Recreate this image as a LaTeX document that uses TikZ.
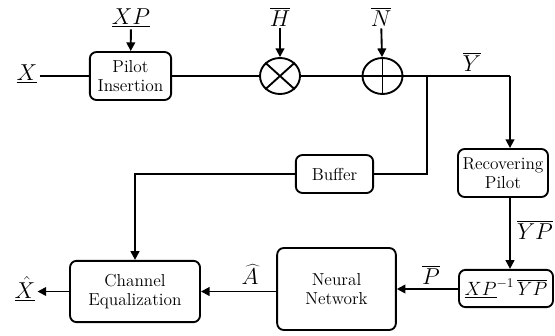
\documentclass[tikz,border=0pt]{standalone}
\usetikzlibrary{arrows.meta,shapes.geometric}
\begin{document}
\begin{tikzpicture}[x=0.75pt,y=-0.75pt,
  line width=1.4pt,
  blk/.style={draw,rounded corners=5pt,align=center,font=\fontsize{13}{14.5}\selectfont,inner sep=1pt},
  lbl/.style={font=\fontsize{18}{20}\selectfont,inner sep=1pt},
  opr/.style={draw,ellipse,minimum width=30pt,minimum height=27pt,inner sep=0pt},
  arr/.style={-{Triangle[length=6.5pt,width=6.5pt]}}]
\useasboundingbox (0,0) rectangle (555,335);

% blocks
\node[blk,minimum width=61pt,minimum height=36pt] (pilot) at (130.5,76) {Pilot\\Insertion};
\node[opr] (mul) at (280,76) {};
\node[opr] (add) at (382.5,76) {};
\node[blk,minimum width=58pt,minimum height=28.5pt] (buf) at (334.5,174) {Buffer};
\node[blk,minimum width=67.5pt,minimum height=36pt] (rec) at (503,173) {Recovering\\Pilot};
\node[blk,minimum width=70.5pt,minimum height=28pt,font=\fontsize{14}{16}\selectfont] (ls) at (506,288.5) {$\underline{XP}^{-1}\,\overline{YP}$};
\node[blk,minimum width=89pt,minimum height=61.5pt] (nn) at (336.5,289) {Neural\\Network};
\node[blk,minimum width=97.5pt,minimum height=46pt] (eq) at (135,291.5) {Channel\\Equalization};

% operator symbols
\draw (mul.north east) -- (mul.south west) (mul.north west) -- (mul.south east);
\draw (add.north) -- (add.south) (add.west) -- (add.east);

% labels
\node[lbl] (x) at (27,74) {$\underline{X}$};
\node[lbl] (xp) at (131,18) {$\underline{XP}$};
\node[lbl] (h) at (280,17) {$\overline{H}$};
\node[lbl] (n) at (381,17) {$\overline{N}$};
\node[lbl] (y) at (472,62) {$\overline{Y}$};
\node[lbl] (yp) at (535,230) {$\overline{YP}$};
\node[lbl] (p) at (431,275) {$\overline{P}$};
\node[lbl] (a) at (250,274) {$\widehat{A}$};
\node[lbl] (xh) at (25,289) {$\underline{\hat{X}}$};

% junctions
\coordinate (br) at (427,76);
\coordinate (tr) at (510,76);

% connectors
\draw (x.east |- pilot.west) -- (pilot.west);
\draw[arr] (xp) -- (pilot);
\draw (pilot.east) -- (mul.west);
\draw[arr] (h) -- (mul);
\draw (mul.east) -- (add.west);
\draw[arr] (n) -- (add);
\draw (add.east) -- (tr);
\draw[arr] (tr) -- (rec.north -| tr);
\draw (br) |- (buf.east);
\draw[arr] (buf.west) -| (eq.north);
\draw[arr] (rec.south -| tr) -- (ls.north -| tr);
\draw[arr] (ls.west |- nn.east) -- (nn.east);
\draw[arr] (nn.west |- eq.east) -- (eq.east);
\draw[arr] (eq.west) -- (eq.west -| xh.east);
\end{tikzpicture}
\end{document}
